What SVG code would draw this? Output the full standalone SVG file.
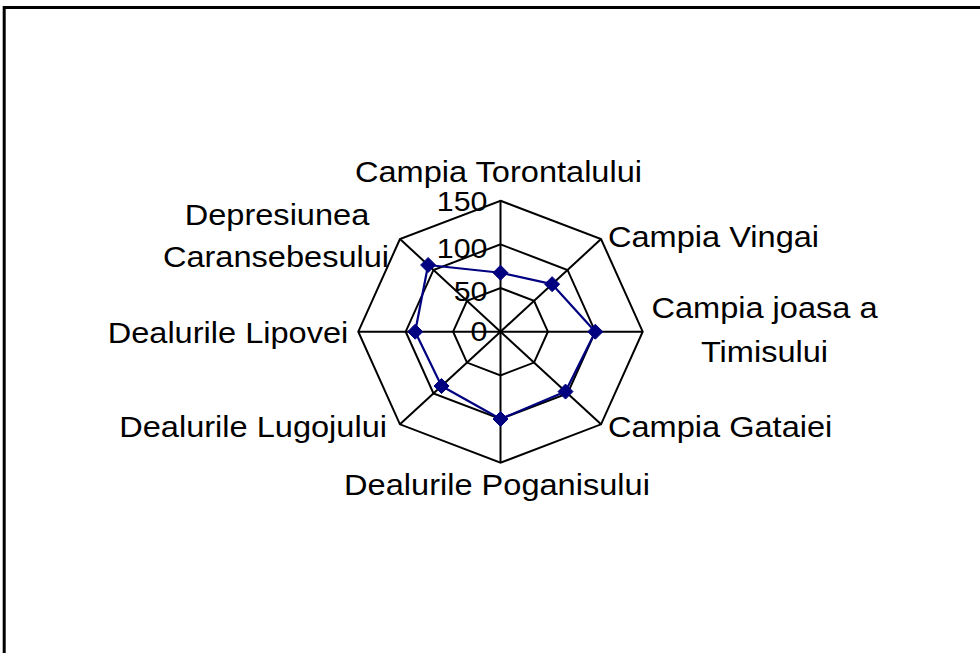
<svg xmlns="http://www.w3.org/2000/svg" width="980" height="653" viewBox="0 0 980 653">
<defs>
<style>
.grid{fill:none;stroke:#000;stroke-width:2;stroke-linejoin:miter}
.series{fill:none;stroke:#000080;stroke-width:2.2;stroke-linejoin:round}
.lbl{font-family:"Liberation Sans",Arial,sans-serif;font-size:30px;fill:#000}
.tick{font-family:"Liberation Sans",Arial,sans-serif;font-size:28px;fill:#000;text-anchor:end}
.mid{text-anchor:middle}
.end{text-anchor:end}
</style>
<path id="dm" d="M0,-7.5 L7.5,0 L0,7.5 L-7.5,0 Z" fill="#000080" stroke="#000080" stroke-width="1"/>
</defs>
<rect width="980" height="653" fill="#fff"/>
<rect id="frame" x="4.2" y="7.5" width="1000" height="700" fill="none" stroke="#000" stroke-width="3"/>

<g id="grid">
<polygon class="grid" points="500.5,200.7 601.05,239.07 642.7,331.7 601.05,424.33 500.5,462.7 399.95,424.33 358.3,331.7 399.95,239.07"/>
<polygon class="grid" points="500.5,244.37 567.53,269.95 595.3,331.7 567.53,393.45 500.5,419.03 433.47,393.45 405.7,331.7 433.47,269.95"/>
<polygon class="grid" points="500.5,288.03 534.02,300.82 547.9,331.7 534.02,362.58 500.5,375.37 466.98,362.58 453.1,331.7 466.98,300.82"/>
<g id="spokes">
<line class="grid" x1="500.5" y1="331.7" x2="500.5" y2="200.7"/>
<line class="grid" x1="500.5" y1="331.7" x2="601.05" y2="239.07"/>
<line class="grid" x1="500.5" y1="331.7" x2="642.7" y2="331.7"/>
<line class="grid" x1="500.5" y1="331.7" x2="601.05" y2="424.33"/>
<line class="grid" x1="500.5" y1="331.7" x2="500.5" y2="462.7"/>
<line class="grid" x1="500.5" y1="331.7" x2="399.95" y2="424.33"/>
<line class="grid" x1="500.5" y1="331.7" x2="358.3" y2="331.7"/>
<line class="grid" x1="500.5" y1="331.7" x2="399.95" y2="239.07"/>
</g>
</g>

<g id="ticks">
<text class="tick" transform="translate(487.5,211) scale(1.085,1)">150</text>
<text class="tick" transform="translate(487.5,258.3) scale(1.085,1)">100</text>
<text class="tick" transform="translate(487.5,300.7) scale(1.085,1)">50</text>
<text class="tick" transform="translate(487.5,340.7) scale(1.085,1)">0</text>
</g>

<g id="series">
<polygon class="series" points="500.5,272.75 552.12,284.15 595.3,331.7 565.52,391.6 500.5,419.03 441.51,386.04 415.18,331.7 428.11,265.01"/>
<use href="#dm" x="500.5" y="272.75"/>
<use href="#dm" x="552.12" y="284.15"/>
<use href="#dm" x="595.3" y="331.7"/>
<use href="#dm" x="565.52" y="391.6"/>
<use href="#dm" x="500.5" y="419.03"/>
<use href="#dm" x="441.51" y="386.04"/>
<use href="#dm" x="415.18" y="331.7"/>
<use href="#dm" x="428.11" y="265.01"/>
</g>

<g id="labels">
<g id="n-torontal"><text class="lbl mid" transform="translate(498.5,182) scale(1.085,1)">Campia Torontalului</text></g>
<g id="n-vingai"><text class="lbl" transform="translate(608,246.5) scale(1.085,1)">Campia Vingai</text></g>
<g id="n-timis"><text class="lbl mid" transform="translate(764.5,318.3) scale(1.085,1)">Campia joasa a</text><text class="lbl mid" transform="translate(764.5,361.7) scale(1.085,1)">Timisului</text></g>
<g id="n-gataia"><text class="lbl" transform="translate(608,436.5) scale(1.085,1)">Campia Gataiei</text></g>
<g id="n-poganis"><text class="lbl mid" transform="translate(497,495) scale(1.085,1)">Dealurile Poganisului</text></g>
<g id="n-lugoj"><text class="lbl end" transform="translate(387,436.5) scale(1.085,1)">Dealurile Lugojului</text></g>
<g id="n-lipova"><text class="lbl end" transform="translate(348.3,343.3) scale(1.085,1)">Dealurile Lipovei</text></g>
<g id="n-caransebes"><text class="lbl mid" transform="translate(277,225) scale(1.085,1)">Depresiunea</text><text class="lbl mid" transform="translate(276,266.7) scale(1.085,1)">Caransebesului</text></g>
</g>
</svg>
